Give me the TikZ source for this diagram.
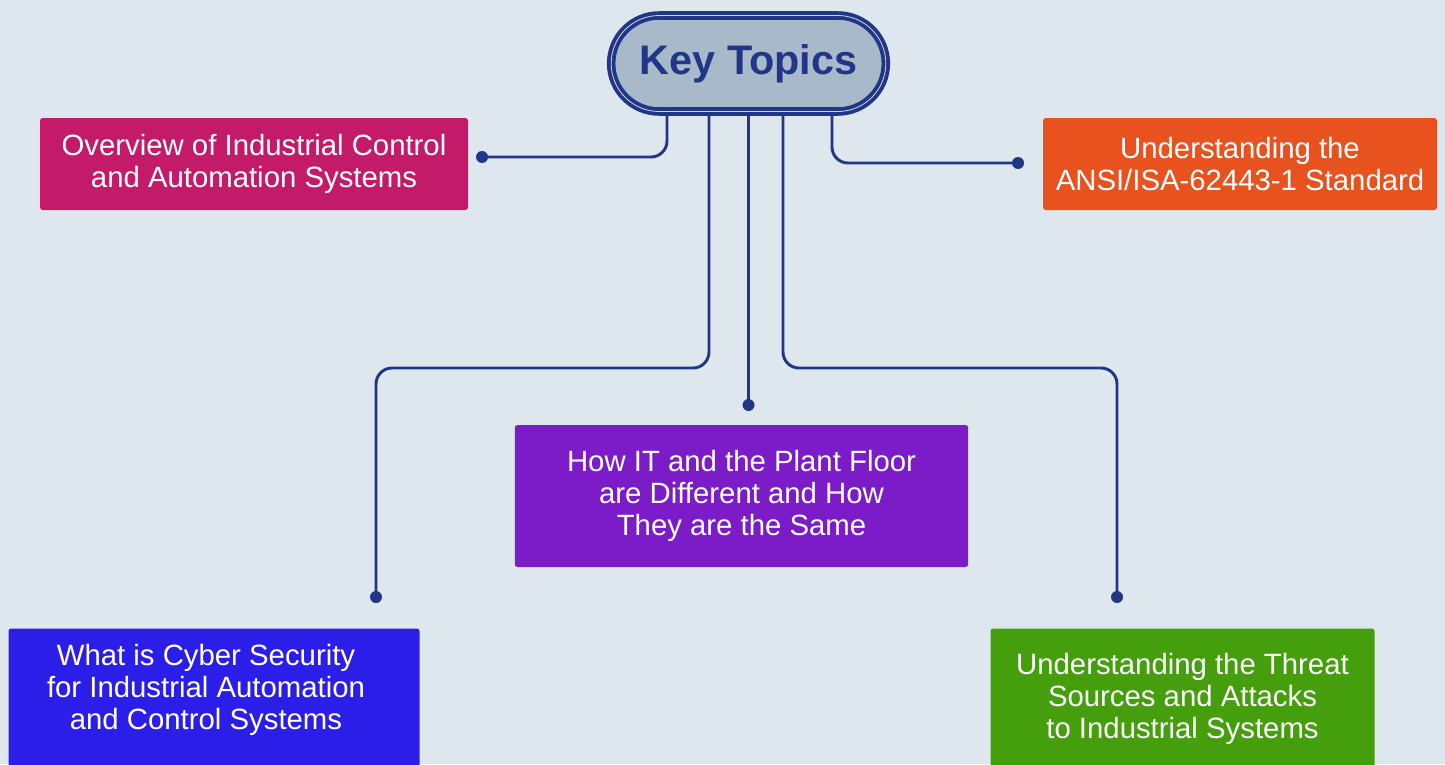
\documentclass[tikz,border=0pt]{standalone}
\usepackage{fontspec}
\setmainfont{Liberation Sans}
\usetikzlibrary{positioning}
\definecolor{bgcol}{RGB}{223,231,238}
\definecolor{navy}{RGB}{33,54,134}
\definecolor{pillfill}{RGB}{168,185,202}
\definecolor{pillline}{RGB}{205,216,228}
\definecolor{overviewcol}{RGB}{196,26,106}
\definecolor{ansicol}{RGB}{232,82,30}
\definecolor{plantcol}{RGB}{123,28,200}
\definecolor{cybercol}{RGB}{42,30,232}
\definecolor{threatcol}{RGB}{69,158,12}

\tikzset{every picture/.style={line width=0.75pt}}
\tikzset{
  topicbox/.style={rectangle, rounded corners=2pt, inner sep=0pt, text=white, align=center, font=\fontsize{22}{24}\selectfont},
  topictext/.style={inner sep=0pt, text=white, align=center, font=\fontsize{22}{24}\selectfont},
  conn/.style={draw=navy, line width=2.2pt, rounded corners=12pt},
  enddot/.style={fill=navy}
}

\begin{document}
\begin{tikzpicture}[x=0.75pt,y=0.75pt,yscale=-1,xscale=1]
%Background
\fill [bgcol] (0,0) rectangle (1445,764);
\useasboundingbox (0,0) rectangle (1445,764);
\clip (0,0) rectangle (1445,764);

%Shape: Key Topics pill
\node [draw=navy, line width=2.9pt, double=pillline, double distance=0.6pt, fill=pillfill, rounded corners=36pt, minimum width=206pt, minimum height=72pt, inner sep=0pt, text=navy, font=\fontsize{31}{36}\selectfont\bfseries] (kt) at (748.5,63.5) {Key Topics};

%Shape: topic boxes
\node [topicbox, fill=overviewcol, minimum width=321pt, minimum height=69pt] (overview) at (254,164) {Overview of Industrial Control\\and Automation Systems};
\node [topicbox, fill=ansicol, minimum width=295.5pt, minimum height=69pt] (ansi) at (1240,164) {Understanding the\\ANSI/ISA-62443-1 Standard};
\node [topicbox, fill=plantcol, minimum width=340pt, minimum height=106.5pt] (plant) at (741.5,496) {How IT and the Plant Floor\\are Different and How\\They are the Same};
\node [topicbox, fill=cybercol, minimum width=308.25pt, minimum height=150pt, anchor=north west] (cyber) at (8,628) {};
\node [topicbox, fill=threatcol, minimum width=288pt, minimum height=150pt, anchor=north west] (threat) at (990,628) {};

% Text Node
\node [topictext] (cybertxt) at ([xshift=-6pt,yshift=46.5pt]cyber.north) {What is Cyber Security\\for Industrial Automation\\and Control Systems};
% Text Node
\node [topictext] (threattxt) at ([yshift=53.25pt]threat.north) {Understanding the Threat\\Sources and Attacks\\to Industrial Systems};

%Branch points and end dots
\path (kt.south) ++(-81.5,0) coordinate (b1);
\path (kt.south) ++(-39.5,0) coordinate (b2);
\path (kt.south) ++(34.5,0) coordinate (b4);
\path (kt.south) ++(83.5,0) coordinate (b5);
\coordinate (lvl) at (0,368);
\coordinate (d1) at (482,157);
\coordinate (d2) at (376,597);
\coordinate (d3) at (748.5,405);
\coordinate (d4) at (1117,597);
\coordinate (d5) at (1018,163);

%Connectors
\draw [conn] (b1) |- (d1);
\draw [conn] (b2) -- (b2 |- lvl) -| (d2);
\draw [conn] (kt.south) -- (d3);
\draw [conn] (b4) -- (b4 |- lvl) -| (d4);
\draw [conn] (b5) |- (d5);
\foreach \d in {d1,d2,d3,d4,d5}
  \fill [enddot] (\d) circle [radius=6];

\end{tikzpicture}
\end{document}
